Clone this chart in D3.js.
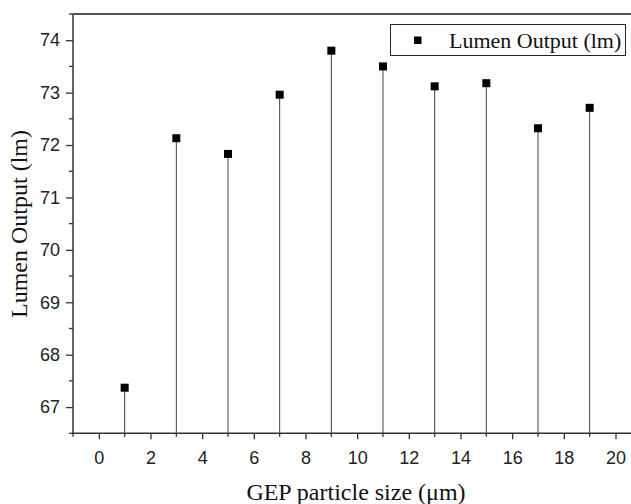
<!DOCTYPE html>
<html>
<head>
<meta charset="utf-8">
<script src="https://cdn.jsdelivr.net/npm/d3@7"></script>
<style>
  body { margin: 0; background: #fff; }
  svg { display: block; }
</style>
</head>
<body>
<div id="chart"></div>
<script>
// particle size (um) and lumen output (lm)
const sizes = [1, 3, 5, 7, 9, 11, 13, 15, 17, 19];
const lumens = [67.37, 72.13, 71.83, 72.96, 73.80, 73.50, 73.12, 73.18, 72.32, 72.71];
const xTicks = [0, 2, 4, 6, 8, 10, 12, 14, 16, 18, 20];
const yTicks = [67, 68, 69, 70, 71, 72, 73, 74];
const seriesName = "Lumen Output (lm)";

const W = 631, H = 504;
const margin = {top: 14, right: 0, bottom: 70.7, left: 73};

const svg = d3.select("#chart").append("svg")
    .attr("width", W)
    .attr("height", H);

let x = d3.scaleLinear().domain([-1, 20.6]).range([margin.left, W - margin.right]);
let y = d3.scaleLinear().domain([66.5, 74.5]).range([H - margin.bottom, margin.top]);

const axisColor = "#333";
const tickFont = "'Liberation Sans', Arial, sans-serif";
const titleFont = "'Liberation Serif', 'Times New Roman', serif";

// minor ticks
let xMinor = d3.range(-1, 20.01, 2);
let yMinor = d3.range(66.5, 74.51, 1);

svg.append("g")
    .selectAll("line")
    .data(xMinor)
    .enter().append("line")
    .attr("x1", d => x(d)).attr("x2", d => x(d))
    .attr("y1", y(66.5)).attr("y2", y(66.5) + 3.5)
    .attr("stroke", axisColor).attr("stroke-width", 1.3);

svg.append("g")
    .selectAll("line")
    .data(yMinor)
    .enter().append("line")
    .attr("x1", x(-1) - 4).attr("x2", x(-1))
    .attr("y1", d => y(d)).attr("y2", d => y(d))
    .attr("stroke", axisColor).attr("stroke-width", 1.3);

// x axis
let xAxisG = svg.append("g")
    .attr("transform", `translate(0,${y(66.5)})`)
    .call(d3.axisBottom(x).tickValues(xTicks).tickSize(6).tickSizeOuter(0));
xAxisG.select(".domain").remove();
xAxisG.selectAll(".tick line").attr("stroke", axisColor).attr("stroke-width", 1.3);
xAxisG.selectAll(".tick text")
    .attr("y", 18)
    .attr("fill", "#222")
    .style("font-family", tickFont)
    .style("font-size", "18px");

// y axis
let yAxisG = svg.append("g")
    .attr("transform", `translate(${x(-1)},0)`)
    .call(d3.axisLeft(y).tickValues(yTicks).tickSize(7).tickSizeOuter(0));
yAxisG.select(".domain").remove();
yAxisG.selectAll(".tick line").attr("stroke", axisColor).attr("stroke-width", 1.3);
yAxisG.selectAll(".tick text")
    .attr("x", -13)
    .attr("fill", "#222")
    .style("font-family", tickFont)
    .style("font-size", "18px");

// frame lines: left, bottom, top
svg.append("line")
    .attr("x1", x(-1)).attr("x2", x(-1))
    .attr("y1", y(74.5)).attr("y2", y(66.5))
    .attr("stroke", axisColor).attr("stroke-width", 1.5);
svg.append("line")
    .attr("x1", x(-1)).attr("x2", W)
    .attr("y1", y(66.5)).attr("y2", y(66.5))
    .attr("stroke", axisColor).attr("stroke-width", 1.5);
svg.append("line")
    .attr("x1", x(-1)).attr("x2", W)
    .attr("y1", y(74.5)).attr("y2", y(74.5))
    .attr("stroke", "#555").attr("stroke-width", 2);

let data = sizes.map((s, i) => ({size: s, lumen: lumens[i]}));

// drop lines
svg.append("g")
    .selectAll("line")
    .data(data)
    .enter().append("line")
    .attr("x1", d => x(d.size)).attr("x2", d => x(d.size))
    .attr("y1", y(66.5)).attr("y2", d => y(d.lumen))
    .attr("stroke", "#444").attr("stroke-width", 1);

// square markers
const ms = 8;
svg.append("g")
    .selectAll("rect")
    .data(data)
    .enter().append("rect")
    .attr("x", d => x(d.size) - ms / 2)
    .attr("y", d => y(d.lumen) - ms / 2)
    .attr("width", ms).attr("height", ms)
    .attr("fill", "#000");

// legend
let legend = svg.append("g");
legend.append("rect")
    .attr("x", 390.5).attr("y", 24.5)
    .attr("width", 235).attr("height", 31)
    .attr("fill", "#fff").attr("stroke", "#222").attr("stroke-width", 1);
legend.append("rect")
    .attr("x", 414).attr("y", 36.5)
    .attr("width", 7.5).attr("height", 7.5)
    .attr("fill", "#000");
legend.append("text")
    .attr("x", 449).attr("y", 48)
    .style("font-family", titleFont)
    .style("font-size", "22px")
    .attr("fill", "#111")
    .text(seriesName);

// axis titles
svg.append("text")
    .attr("x", 356).attr("y", 500)
    .attr("text-anchor", "middle")
    .style("font-family", titleFont)
    .style("font-size", "24px")
    .attr("fill", "#111")
    .text("GEP particle size (μm)");

svg.append("text")
    .attr("transform", "translate(27,224) rotate(-90)")
    .attr("text-anchor", "middle")
    .style("font-family", titleFont)
    .style("font-size", "24px")
    .attr("fill", "#111")
    .text("Lumen Output (lm)");
</script>
</body>
</html>
